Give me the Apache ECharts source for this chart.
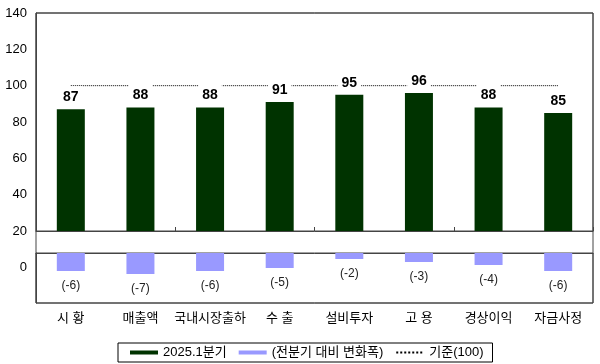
<!DOCTYPE html>
<html>
<head>
<meta charset="utf-8">
<script src="https://cdn.jsdelivr.net/npm/echarts@6/dist/echarts.min.js"></script>
<style>
html,body{margin:0;padding:0;background:#fff;}
#chart{width:600px;height:364px;}
</style>
</head>
<body>
<div id="chart"></div>
<script>
const categories = ['시 황', '매출액', '국내시장출하', '수 출', '설비투자', '고 용', '경상이익', '자금사정'];
const currentValues = [87, 88, 88, 91, 95, 96, 88, 85];
const changeValues = [-6, -7, -6, -5, -2, -3, -4, -6];
const baseValues = [100, 100, 100, 100, 100, 100, 100, 100];
const seriesNames = ['2025.1분기', '(전분기 대비 변화폭)', '기준(100)'];
const lowerTickLabels = ['0'];

const FONT = "'Liberation Sans', 'Noto Sans CJK KR', sans-serif";
const frameColor = '#444';

const chart = echarts.init(document.getElementById('chart'), null, {renderer: 'canvas'});
const option = {
  backgroundColor: '#fff',
  animation: false,
  textStyle: {fontFamily: FONT},
  grid: [
    {left: 36, right: 7, top: 13, height: 218, show: true, borderColor: frameColor, borderWidth: 1, backgroundColor: 'transparent'},
    {left: 36, right: 7, top: 253, height: 50, show: true, borderColor: frameColor, borderWidth: 1, backgroundColor: 'transparent'},
    {left: 36, right: 7, top: 13, height: 290, show: true, borderColor: frameColor, borderWidth: 1, backgroundColor: 'transparent'}
  ],
  xAxis: [
    {type: 'category', gridIndex: 0, data: categories, boundaryGap: true,
     axisLine: {show: true, lineStyle: {color: frameColor}},
     axisTick: {show: true, inside: true, length: 4, alignWithLabel: false, lineStyle: {color: frameColor}},
     axisLabel: {show: false}, splitLine: {show: false}},
    {type: 'category', gridIndex: 1, data: categories, boundaryGap: true, position: 'bottom',
     axisLine: {show: true, lineStyle: {color: frameColor}},
     axisTick: {show: false},
     axisLabel: {show: true, interval: 0, color: '#000', fontSize: 13, fontFamily: FONT, margin: 9},
     splitLine: {show: false}},
    {type: 'category', gridIndex: 2, data: categories, show: false}
  ],
  yAxis: [
    {type: 'value', gridIndex: 0, min: 20, max: 140, interval: 20,
     axisLine: {show: true, lineStyle: {color: frameColor}},
     axisTick: {show: false}, splitLine: {show: false},
     axisLabel: {color: '#000', fontSize: 13, fontFamily: FONT, margin: 9}},
    {type: 'value', gridIndex: 1, min: -50 / 3, max: 0,
     axisLine: {show: true, lineStyle: {color: frameColor}},
     axisTick: {show: false}, splitLine: {show: false},
     axisLabel: {color: '#000', fontSize: 13, fontFamily: FONT, margin: 9,
       customValues: [-14 / 3], formatter: function () { return lowerTickLabels[0]; }}},
    {type: 'value', gridIndex: 2, show: false, min: 0, max: 1}
  ],
  legend: {
    left: 118, top: 343,
    padding: [3, 9, 3, 12],
    borderColor: '#000', borderWidth: 1,
    itemWidth: 28, itemHeight: 4, itemGap: 12,
    textStyle: {color: '#000', fontSize: 13, fontFamily: FONT},
    data: [
      {name: seriesNames[0], icon: 'rect'},
      {name: seriesNames[1], icon: 'rect'},
      {name: seriesNames[2], itemStyle: {color: 'rgba(0,0,0,0)', borderWidth: 0, opacity: 0}}
    ]
  },
  series: [
    {name: seriesNames[0], type: 'bar', xAxisIndex: 0, yAxisIndex: 0, data: currentValues,
     barWidth: 28, z: 3, itemStyle: {color: '#003300'},
     label: {show: true, position: 'top', distance: 4, color: '#000', fontSize: 14, fontWeight: 'bold',
       fontFamily: FONT, backgroundColor: '#fff', padding: [4, 4, 1, 4]}},
    {name: seriesNames[1], type: 'bar', xAxisIndex: 1, yAxisIndex: 1, data: changeValues,
     barWidth: 28, z: 3, itemStyle: {color: '#9999ff'},
     label: {show: true, position: 'bottom', distance: 9, color: '#222', fontSize: 12, fontFamily: FONT,
       formatter: function (p) { return '(' + p.value + ')'; }}},
    {name: seriesNames[2], type: 'line', xAxisIndex: 0, yAxisIndex: 0, data: baseValues, z: 1,
     symbol: 'none', lineStyle: {color: '#000', width: 1, type: 'dotted'}, itemStyle: {color: '#000'}}
  ]
};
chart.setOption(option);
</script>
</body>
</html>
